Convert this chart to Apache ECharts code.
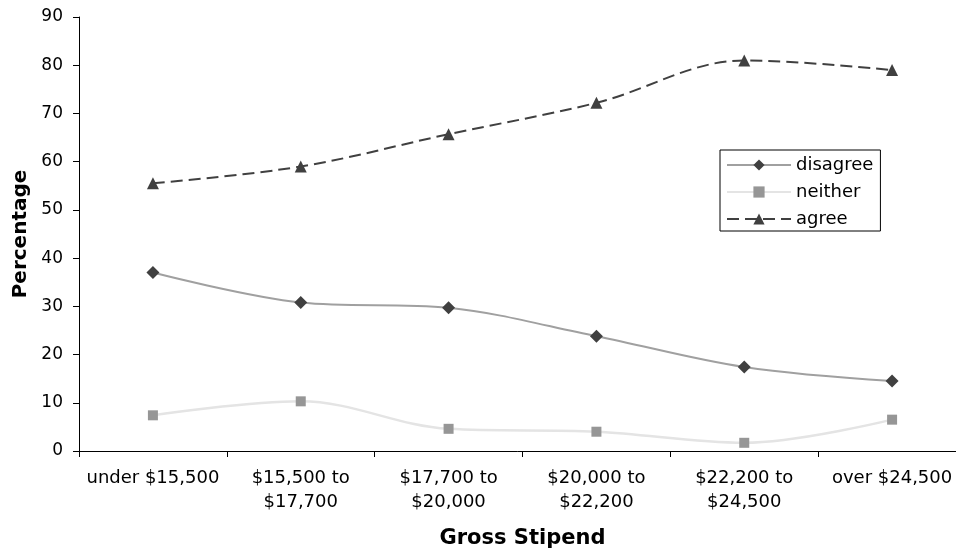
<!DOCTYPE html>
<html>
<head>
<meta charset="utf-8">
<script src="https://cdn.jsdelivr.net/npm/echarts@6/dist/echarts.min.js"></script>
<style>
html,body{margin:0;padding:0;background:#fff;}
#chart{width:956px;height:552px;}
</style>
</head>
<body>
<div id="chart"></div>
<script>
// Stipend brackets and the share of responses in each
const categories = ['under $15,500', '$15,500 to\n$17,700', '$17,700 to\n$20,000', '$20,000 to\n$22,200', '$22,200 to\n$24,500', 'over $24,500'];
const disagree = [37.0, 30.8, 29.7, 23.8, 17.4, 14.5];
const neither = [7.4, 10.3, 4.6, 4.0, 1.7, 6.5];
const agree = [55.5, 59.0, 65.7, 72.2, 81.0, 79.0];

const font = 'DejaVu Sans, Verdana, sans-serif';
const chart = echarts.init(document.getElementById('chart'), null, { renderer: 'canvas' });

chart.setOption({
  animation: false,
  backgroundColor: '#ffffff',
  textStyle: { fontFamily: font },
  // the plot runs a little past the right edge of the canvas
  grid: { left: 79, top: 17, width: 887, height: 434, containLabel: false, outerBoundsMode: 'none' },
  legend: {
    orient: 'vertical',
    left: 720,
    top: 150,
    padding: [6, 7, 3, 6],
    itemGap: 9,
    itemWidth: 64,
    itemHeight: 14,
    borderColor: '#000',
    borderWidth: 1,
    textStyle: { fontFamily: font, fontSize: 18, lineHeight: 18, color: '#000' },
    data: ['disagree', 'neither', 'agree']
  },
  xAxis: {
    type: 'category',
    data: categories,
    boundaryGap: true,
    name: 'Gross Stipend',
    nameLocation: 'middle',
    nameGap: 77,
    nameTextStyle: { fontFamily: font, fontSize: 21, fontWeight: 'bold', color: '#000' },
    axisLine: { lineStyle: { color: '#000', width: 1 } },
    axisTick: { show: true, length: 6, lineStyle: { color: '#000' } },
    axisLabel: { fontFamily: font, fontSize: 18, color: '#000', margin: 15, lineHeight: 24, interval: 0 },
    splitLine: { show: false }
  },
  yAxis: {
    type: 'value',
    min: 0,
    max: 90,
    interval: 10,
    name: 'Percentage',
    nameLocation: 'middle',
    nameGap: 41,
    nameTextStyle: { fontFamily: font, fontSize: 20, fontWeight: 'bold', color: '#000' },
    axisLine: { show: true, lineStyle: { color: '#000', width: 1 } },
    axisTick: { show: true, length: 6, lineStyle: { color: '#000' } },
    axisLabel: { fontFamily: font, fontSize: 17, color: '#000', margin: 16 },
    splitLine: { show: false }
  },
  series: [
    {
      name: 'disagree',
      type: 'line',
      data: disagree,
      smooth: 0.35,
      symbol: 'diamond',
      symbolSize: 13,
      itemStyle: { color: '#404040' },
      lineStyle: { color: '#a0a0a0', width: 2 }
    },
    {
      name: 'neither',
      type: 'line',
      data: neither,
      smooth: 0.35,
      symbol: 'rect',
      symbolSize: 10,
      itemStyle: { color: '#969696' },
      lineStyle: { color: '#e4e4e4', width: 2.5 }
    },
    {
      name: 'agree',
      type: 'line',
      data: agree,
      smooth: 0.35,
      symbol: 'triangle',
      symbolSize: 12,
      itemStyle: { color: '#404040' },
      lineStyle: { color: '#404040', width: 2, type: [12, 6] }
    }
  ]
});
</script>
</body>
</html>
